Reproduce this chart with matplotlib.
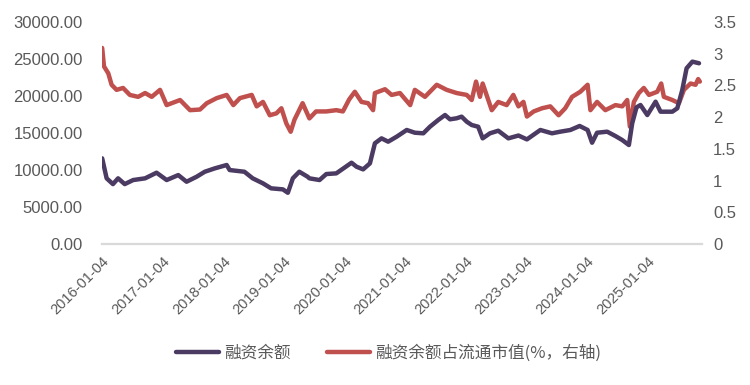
import numpy as np
import pandas as pd
import matplotlib
matplotlib.use("Agg")
import matplotlib.pyplot as plt
from matplotlib.ticker import FuncFormatter

# 融资余额 (left axis)
bal_dates = ["2016-01-05", "2016-02-01", "2016-03-10", "2016-04-10", "2016-05-20", "2016-07-10",
             "2016-09-20", "2016-11-28", "2017-01-28", "2017-04-08", "2017-05-28", "2017-07-28",
             "2017-09-15", "2017-11-15", "2018-01-25", "2018-02-12", "2018-05-12", "2018-07-01",
             "2018-09-01", "2018-10-20", "2018-12-30", "2019-01-29", "2019-02-28", "2019-04-08",
             "2019-05-28", "2019-06-08", "2019-08-08", "2019-09-18", "2019-11-17", "2020-01-08",
             "2020-02-17", "2020-03-18", "2020-04-27", "2020-06-07", "2020-07-07", "2020-08-16",
             "2020-09-25", "2020-11-15", "2021-01-15", "2021-03-05", "2021-04-25", "2021-06-04",
             "2021-07-24", "2021-09-03", "2021-10-03", "2021-11-12", "2021-12-12", "2022-01-12",
             "2022-02-11", "2022-03-22", "2022-04-18", "2022-06-01", "2022-07-21", "2022-09-20",
             "2022-11-20", "2023-01-10", "2023-04-01", "2023-06-10", "2023-07-30", "2023-09-29",
             "2023-11-24", "2024-01-11", "2024-02-07", "2024-03-08", "2024-05-08", "2024-06-27",
             "2024-08-07", "2024-09-16", "2024-10-06", "2024-11-01", "2024-11-25", "2025-01-05",
             "2025-02-24", "2025-03-26", "2025-06-05", "2025-07-05", "2025-08-04", "2025-08-30",
             "2025-10-04", "2025-11-13"]
bal_values = [11580, 8880, 8100, 8880, 8100, 8650,
              8880, 9640, 8650, 9320, 8420, 9100,
              9770, 10230, 10680, 10000, 9770, 8880,
              8200, 7530, 7390, 6930, 8880, 9770,
              9100, 8880, 8650, 9460, 9550, 10360,
              10990, 10450, 10090, 10900, 13610, 14280,
              13830, 14500, 15410, 15040, 14960, 15850,
              16760, 17430, 16850, 16990, 17210, 16530,
              16080, 15850, 14280, 14960, 15310, 14280,
              14660, 14140, 15410, 14960, 15180, 15410,
              15950, 15410, 13690, 15040, 15180, 14590,
              14050, 13380, 16310, 18470, 18780, 17430,
              19230, 17880, 17880, 18340, 20810, 23740,
              24640, 24420]

# 融资余额占流通市值 (%) (right axis)
pct_dates = ["2016-01-05", "2016-01-16", "2016-02-11", "2016-03-02", "2016-04-01", "2016-05-10",
             "2016-06-20", "2016-08-09", "2016-09-20", "2016-10-30", "2016-12-19", "2017-01-28",
             "2017-04-19", "2017-06-18", "2017-08-17", "2017-09-27", "2017-11-26", "2018-01-25",
             "2018-03-06", "2018-04-15", "2018-06-25", "2018-07-25", "2018-09-01", "2018-10-12",
             "2018-11-21", "2018-12-21", "2019-01-20", "2019-02-15", "2019-03-10", "2019-04-28",
             "2019-06-08", "2019-07-18", "2019-09-18", "2019-11-17", "2019-12-27", "2020-02-03",
             "2020-03-08", "2020-04-17", "2020-05-27", "2020-06-26", "2020-07-07", "2020-09-06",
             "2020-10-16", "2020-12-05", "2021-02-05", "2021-03-05", "2021-05-05", "2021-07-15",
             "2021-09-13", "2021-11-12", "2022-01-12", "2022-02-11", "2022-03-09", "2022-04-02",
             "2022-04-18", "2022-06-12", "2022-07-21", "2022-09-10", "2022-10-20", "2022-11-20",
             "2022-12-20", "2023-01-10", "2023-02-20", "2023-04-11", "2023-05-31", "2023-07-20",
             "2023-08-29", "2023-10-09", "2023-11-28", "2024-01-11", "2024-01-28", "2024-03-08",
             "2024-04-27", "2024-06-27", "2024-08-07", "2024-09-06", "2024-09-22", "2024-10-16",
             "2024-11-15", "2024-12-15", "2025-01-15", "2025-03-06", "2025-03-30", "2025-04-15",
             "2025-06-05", "2025-07-15", "2025-08-14", "2025-09-23", "2025-10-23", "2025-11-08",
             "2025-11-18"]
pct_values = [3.09, 2.80, 2.69, 2.51, 2.43, 2.46,
              2.35, 2.32, 2.38, 2.32, 2.43, 2.19,
              2.27, 2.11, 2.12, 2.22, 2.30, 2.35,
              2.19, 2.30, 2.35, 2.17, 2.24, 2.03,
              2.06, 2.14, 1.90, 1.77, 1.96, 2.22,
              1.98, 2.09, 2.09, 2.11, 2.09, 2.28,
              2.40, 2.24, 2.22, 2.11, 2.38, 2.44,
              2.35, 2.38, 2.19, 2.43, 2.32, 2.51,
              2.43, 2.38, 2.35, 2.27, 2.56, 2.32,
              2.53, 2.11, 2.24, 2.19, 2.35, 2.17,
              2.24, 2.01, 2.09, 2.14, 2.17, 2.03,
              2.14, 2.32, 2.40, 2.51, 2.11, 2.24,
              2.11, 2.19, 2.17, 2.27, 1.85, 2.24,
              2.38, 2.46, 2.35, 2.40, 2.53, 2.32,
              2.27, 2.22, 2.43, 2.53, 2.51, 2.60,
              2.56]

tick_labels = ["2016-01-04", "2017-01-04", "2018-01-04", "2019-01-04", "2020-01-04",
               "2021-01-04", "2022-01-04", "2023-01-04", "2024-01-04", "2025-01-04"]

purple = "#4B3B63"
red = "#C0504D"
gray = "#595959"

plt.rcParams['font.family'] = ['Liberation Sans', 'Noto Sans CJK SC', 'DejaVu Sans']

fig = plt.figure(figsize=(7.5, 3.85), dpi=100)
ax = fig.add_axes([0.136, 0.366, 0.800, 0.577])
ax2 = ax.twinx()

ax2.plot(pd.to_datetime(pct_dates), pct_values, color=red, lw=3.2, solid_capstyle='round',
         label="融资余额占流通市值(%，右轴)")
ax.plot(pd.to_datetime(bal_dates), bal_values, color=purple, lw=3.2, solid_capstyle='round',
        label="融资余额")
ax.set_zorder(ax2.get_zorder() + 1)
ax.patch.set_visible(False)

ax.set_ylim(0, 30000)
ax.set_yticks(np.arange(0, 30001, 5000))
ax.yaxis.set_major_formatter(FuncFormatter(lambda v, p: "%.2f" % v))
ax2.set_ylim(0, 3.5)
ax2.set_yticks(np.arange(0, 3.51, 0.5))
ax2.yaxis.set_major_formatter(FuncFormatter(lambda v, p: "%g" % v))

ax.set_xlim(pd.Timestamp("2016-01-04"), pd.Timestamp("2025-12-01"))
ax.set_xticks(pd.to_datetime(tick_labels))
ax.set_xticklabels(tick_labels, rotation=45, ha='right', rotation_mode='anchor')

for a in (ax, ax2):
    for s in a.spines.values():
        s.set_visible(False)
    a.tick_params(length=0, labelsize=12, labelcolor=gray)
ax.spines['bottom'].set_visible(True)
ax.spines['bottom'].set_color("#D9D9D9")
ax.spines['bottom'].set_linewidth(1.6)
ax.tick_params(axis='x', pad=7, labelsize=10.5)
ax.tick_params(axis='y', pad=14)
ax2.tick_params(axis='y', pad=8)

h1, l1 = ax.get_legend_handles_labels()
h2, l2 = ax2.get_legend_handles_labels()
fig.legend(h1 + h2, l1 + l2, loc='center', bbox_to_anchor=(0.518, 0.083), ncol=2,
           frameon=False, handlelength=2.6, handletextpad=0.3, columnspacing=2.2,
           prop={'family': ['Noto Sans CJK SC', 'DejaVu Sans'], 'size': 12},
           labelcolor=gray)

fig.savefig("out.png", dpi=100)
